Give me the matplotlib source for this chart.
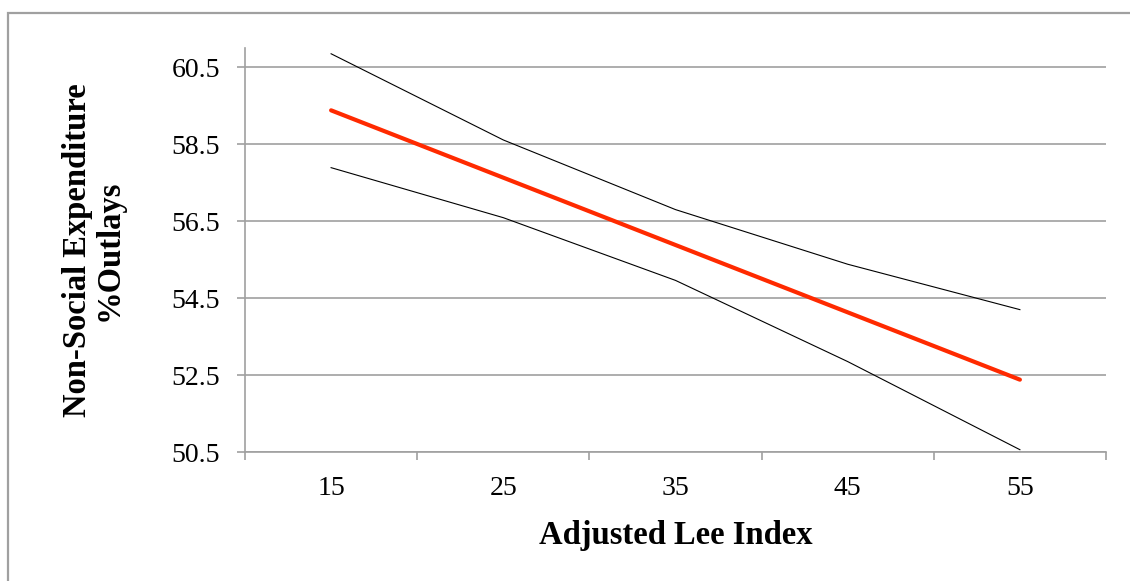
import numpy as np
import matplotlib.pyplot as plt
from matplotlib.patches import Rectangle

# values
lee_index = ["15", "25", "35", "45", "55"]
fitted = [59.38, 57.63, 55.88, 54.13, 52.38]
upper = [60.85, 58.61, 56.80, 55.38, 54.20]
lower = [57.89, 56.59, 54.96, 52.85, 50.56]
y_ticks = [50.5, 52.5, 54.5, 56.5, 58.5, 60.5]

plt.rcParams['font.family'] = ['Liberation Serif', 'DejaVu Serif']

fig = plt.figure(figsize=(11.3, 5.81), dpi=100)
ax = fig.add_axes([245 / 1130, 1 - 452 / 581, 861 / 1130, 404 / 581])

# outer chart frame (runs off the right and bottom edges)
fig.patches.append(Rectangle((8 / 1130, -0.05), 1.2, 1 - 13 / 581 + 0.05,
                             transform=fig.transFigure, fill=False,
                             edgecolor='#a0a0a0', lw=1.6))

x = np.arange(len(lee_index)) + 0.5
ax.plot(x, upper, color='black', lw=0.8)
ax.plot(x, lower, color='black', lw=0.8)
ax.plot(x, fitted, color='#ff2a00', lw=3.0, solid_capstyle='round')

ax.set_xlim(0, len(lee_index))
ax.set_ylim(50.5, 61.0)
ax.set_yticks(y_ticks)
ax.set_yticklabels([f"{v:.1f}" for v in y_ticks])
ax.set_xticks(np.arange(len(lee_index) + 1))
ax.set_xticklabels([])
ax.set_xticks(x, minor=True)
ax.set_xticklabels(lee_index, minor=True)

ax.grid(axis='y', color='#a0a0a0', lw=1.2)
ax.set_axisbelow(True)
for side in ['top', 'right']:
    ax.spines[side].set_visible(False)
for side in ['left', 'bottom']:
    ax.spines[side].set_color('#a0a0a0')
    ax.spines[side].set_linewidth(1.2)

ax.tick_params(axis='y', which='major', length=6, width=1.2, color='#a0a0a0',
               labelsize=20, pad=12)
ax.tick_params(axis='x', which='major', length=6, width=1.2, color='#a0a0a0')
ax.tick_params(axis='x', which='minor', length=0, labelsize=20, pad=17)

ax.set_xlabel("Adjusted Lee Index", fontsize=23.5, fontweight='bold', labelpad=14)
ax.set_ylabel("Non-Social Expenditure\n%Outlays", fontsize=23.5, fontweight='bold',
              labelpad=34, linespacing=1.0)

fig.savefig("out.png", dpi=100)
